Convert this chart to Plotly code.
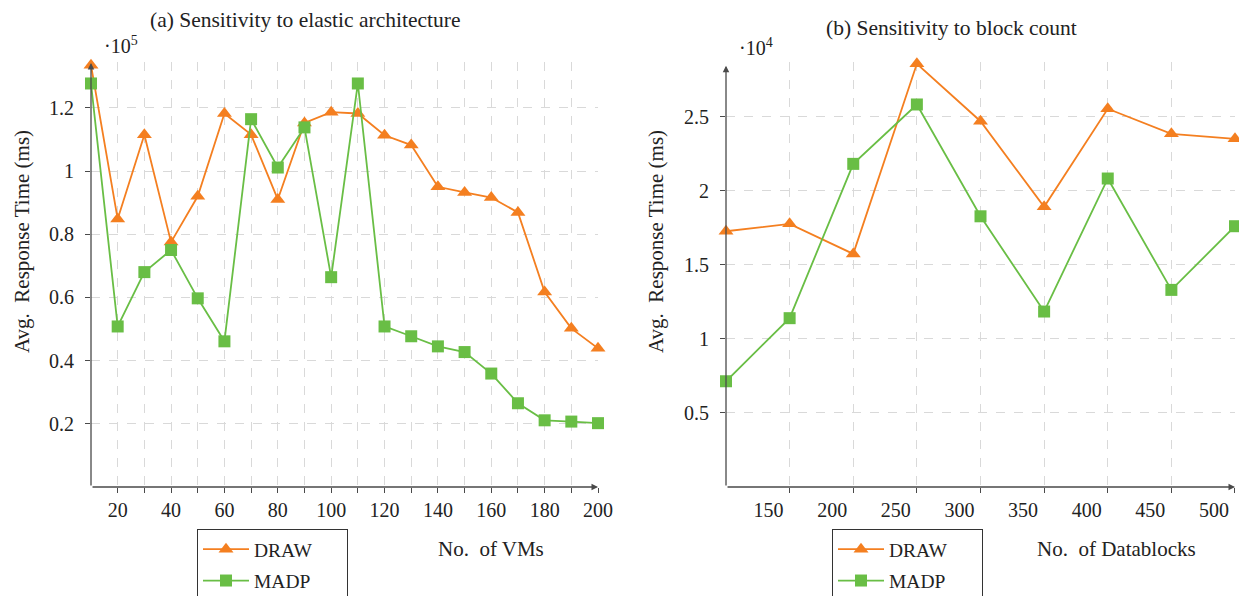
import plotly.graph_objects as go

# ---------------- data ----------------
vms = [10, 20, 30, 40, 50, 60, 70, 80, 90, 100, 110, 120, 130, 140, 150, 160, 170, 180, 190, 200]
draw_vms = [1.335, 0.848, 1.115, 0.775, 0.920, 1.182, 1.115, 0.910, 1.152, 1.186, 1.182,
            1.113, 1.082, 0.950, 0.932, 0.916, 0.869, 0.617, 0.502, 0.439]
madp_vms = [1.277, 0.508, 0.680, 0.750, 0.597, 0.461, 1.164, 1.011, 1.138, 0.664, 1.277,
            0.508, 0.477, 0.445, 0.427, 0.359, 0.265, 0.211, 0.207, 0.202]

blocks = [100, 150, 200, 250, 300, 350, 400, 450, 500]
draw_blocks = [1.727, 1.777, 1.574, 2.858, 2.470, 1.892, 2.554, 2.385, 2.351]
madp_blocks = [0.714, 1.140, 2.182, 2.583, 1.828, 1.185, 2.083, 1.331, 1.761]

series_names = ["DRAW", "MADP"]

vm_ticks = list(range(20, 201, 10))
vm_ticktext = [str(v) if v % 20 == 0 else "" for v in vm_ticks]
vm_yticks = [0.2, 0.4, 0.6, 0.8, 1.0, 1.2]
vm_yticktext = ["0.2", "0.4", "0.6", "0.8", "1", "1.2"]

blk_ticks = [150, 200, 250, 300, 350, 400, 450, 500]
blk_ticktext = [str(v) for v in blk_ticks]
blk_yticks = [0.5, 1.0, 1.5, 2.0, 2.5]
blk_yticktext = ["0.5", "1", "1.5", "2", "2.5"]

# ---------------- style ----------------
ORANGE = "#F47F20"
GREEN = "#69BE45"
AXIS = "#4a4a4a"
GRID = "#d9d9d9"
TXT = "#222222"
FONT = "Liberation Serif"
NB = "\u00a0"
PAD = NB * 6  # widens the legend box like the reference

fig = go.Figure()

def add_pair(x, d, m, xa, ya, leg):
    fig.add_trace(go.Scatter(x=x, y=d, name=series_names[0] + PAD, mode="lines+markers",
                             line=dict(color=ORANGE, width=1.8), legendgroup="d",
                             marker=dict(symbol="triangle-up", size=13, color=ORANGE),
                             xaxis=xa, yaxis=ya, legend=leg, cliponaxis=False))
    fig.add_trace(go.Scatter(x=x, y=m, name=series_names[1] + PAD, mode="lines+markers",
                             line=dict(color=GREEN, width=1.8), legendgroup="m",
                             marker=dict(symbol="square", size=12, color=GREEN),
                             xaxis=xa, yaxis=ya, legend=leg, cliponaxis=False))

add_pair(vms, draw_vms, madp_vms, "x", "y", "legend")
add_pair(blocks, draw_blocks, madp_blocks, "x2", "y2", "legend2")

ydom = [0.1829, 0.8960]
common = dict(showline=False, zeroline=False, showgrid=True, gridcolor=GRID,
              griddash="dash", gridwidth=1, ticks="outside", ticklen=5,
              tickcolor=AXIS, tickfont=dict(family=FONT, size=20, color=TXT))

legend_common = dict(xanchor="left", yanchor="top", bordercolor="#333333", borderwidth=1,
                     bgcolor="white", font=dict(family=FONT, size=19.5, color=TXT),
                     tracegroupgap=3, itemwidth=46)

fig.update_layout(
    width=1239, height=596,
    margin=dict(l=0, r=0, t=0, b=0, autoexpand=False),
    paper_bgcolor="white", plot_bgcolor="white",
    font=dict(family=FONT, size=17, color=TXT),
    xaxis=dict(domain=[0.07345, 0.48265], range=[10, 200], tickvals=vm_ticks,
               ticktext=vm_ticktext, anchor="y", **common),
    yaxis=dict(domain=ydom, range=[0, 1.345], tickvals=vm_yticks,
               ticktext=vm_yticktext, anchor="x", ticklabelstandoff=7, **common),
    xaxis2=dict(domain=[0.58596, 0.99677], range=[100, 500], tickvals=blk_ticks,
                ticktext=blk_ticktext, anchor="y2", ticklabelshift=-21, **common),
    yaxis2=dict(domain=ydom, range=[0, 2.87], tickvals=blk_yticks,
                ticktext=blk_yticktext, anchor="x2", ticklabelstandoff=7, **common),
    legend=dict(x=197/1239, y=(596-529)/596, **legend_common),
    legend2=dict(x=832/1239, y=(596-529)/596, **legend_common),
    showlegend=True,
)

ann = []
# axis lines with arrow heads
for xa, ya, x0, x1, y1 in [("x", "y", 10, 200, 1.342), ("x2", "y2", 100, 500, 2.845)]:
    ann.append(dict(x=x1, y=0, ax=x0, ay=0, xref=xa, yref=ya, axref=xa, ayref=ya,
                    text="", showarrow=True, arrowhead=2, arrowsize=1, arrowwidth=1.3,
                    arrowcolor=AXIS))
    ann.append(dict(x=x0, y=y1, ax=x0, ay=0, xref=xa, yref=ya, axref=xa, ayref=ya,
                    text="", showarrow=True, arrowhead=2, arrowsize=1, arrowwidth=1.3,
                    arrowcolor=AXIS))

def txt(text, x, y, size=17, angle=0, xanchor="center"):
    ann.append(dict(text=text, x=x/1239, y=1-y/596, xref="paper", yref="paper",
                    showarrow=False, textangle=angle, xanchor=xanchor, yanchor="middle",
                    font=dict(family=FONT, size=size, color=TXT)))

txt("(a) Sensitivity to elastic architecture", 305, 20, 21.5)
txt("(b) Sensitivity to block count", 951, 28, 21.5)
txt("·10<sup>5</sup>", 102, 45, 20, xanchor="left")
txt("·10<sup>4</sup>", 737, 47, 20, xanchor="left")
txt("Avg." + NB + " Response Time (ms)", 22, 242, 21, angle=-90)
txt("Avg." + NB + " Response Time (ms)", 656, 242, 21, angle=-90)
txt("No." + NB + " of VMs", 491, 549, 21)
txt("No." + NB + " of Datablocks", 1116, 549, 21)

fig.update_layout(annotations=ann)
fig.write_html("out.html", config={"displayModeBar": False},
               post_script="document.body.style.margin='0';document.body.style.overflow='hidden';")
